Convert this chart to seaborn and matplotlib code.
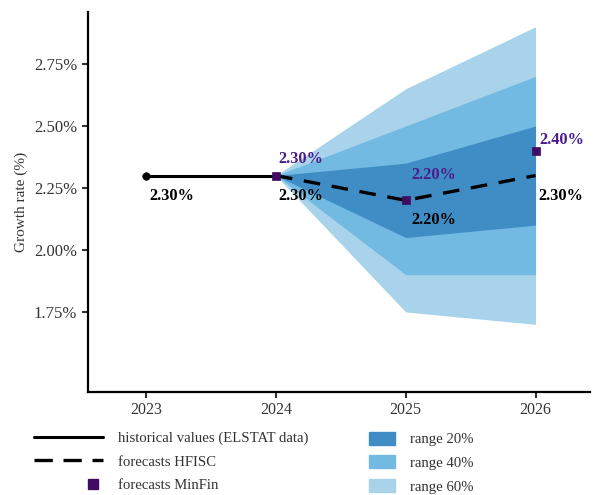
import numpy as np
import matplotlib
matplotlib.use("Agg")
import matplotlib.pyplot as plt
import seaborn as sns
from matplotlib.lines import Line2D
from matplotlib.patches import Patch
from matplotlib.legend_handler import HandlerLine2D

# data
hist_years = [2023, 2024]
hist_values = [2.30, 2.30]

fc_years = [2024, 2025, 2026]
hfisc_values = [2.30, 2.20, 2.30]
minfin_values = [2.30, 2.20, 2.40]

# fan chart bands (lower, upper)
band20_lo = [2.30, 2.05, 2.10]
band20_hi = [2.30, 2.35, 2.50]
band40_lo = [2.30, 1.90, 1.90]
band40_hi = [2.30, 2.50, 2.70]
band60_lo = [2.30, 1.75, 1.70]
band60_hi = [2.30, 2.65, 2.90]

yticks = [1.75, 2.00, 2.25, 2.50, 2.75]
xticks = [2023, 2024, 2025, 2026]

c20 = "#3f8dc4"
c40 = "#73bae3"
c60 = "#a8d3ea"
purple = "#3f0b63"
purple_txt = "#4a1c8c"

sns.set_style("ticks")
plt.rcParams['font.family'] = ['Liberation Serif', 'DejaVu Serif']

fig = plt.figure(figsize=(5.93, 4.95), dpi=100)
ax = fig.add_axes([0.148, 0.208, 0.847, 0.768])

ax.fill_between(fc_years, band60_lo, band60_hi, color=c60, lw=0, zorder=1)
ax.fill_between(fc_years, band40_lo, band40_hi, color=c40, lw=0, zorder=2)
ax.fill_between(fc_years, band20_lo, band20_hi, color=c20, lw=0, zorder=3)

sns.lineplot(x=hist_years, y=hist_values, color="black", lw=2.2, ax=ax, zorder=5)
sns.scatterplot(x=hist_years[:1], y=hist_values[:1], color="black", s=30, ax=ax, zorder=6, edgecolor="black")
ax.plot(fc_years, hfisc_values, color="black", lw=2.4, ls=(0, (5, 3.5)), zorder=5)
sns.scatterplot(x=fc_years, y=minfin_values, color=purple, marker="s", s=40,
                edgecolor=purple, ax=ax, zorder=7)

# value labels
lab = dict(fontsize=11.8, fontweight="bold", textcoords="offset points")
ax.annotate(f"{hist_values[0]:.2f}%", (hist_years[0], hist_values[0]), xytext=(2, -15),
            color="black", ha="left", va="center", **lab)
black_off = [(2, -15), (4, -14), (2, -15)]
for yr, v, off in zip(fc_years, hfisc_values, black_off):
    ax.annotate(f"{v:.2f}%", (yr, v), xytext=off, color="black", ha="left", va="center", **lab)
purple_off = [(2, 12), (4, 18), (3, 8)]
for yr, v, off in zip(fc_years, minfin_values, purple_off):
    ax.annotate(f"{v:.2f}%", (yr, v), xytext=off, color=purple_txt, ha="left", va="center", **lab)

ax.set_xlim(2022.55, 2026.42)
ax.set_ylim(1.427, 2.96)
ax.set_xticks(xticks)
ax.set_xticklabels([str(x) for x in xticks])
ax.set_yticks(yticks)
ax.set_yticklabels([f"{t:.2f}%" for t in yticks])
ax.tick_params(colors="#333333", width=1.5, length=4)
ax.tick_params(axis="y", labelsize=12)
ax.tick_params(axis="x", labelsize=11.5)
ax.set_ylabel("Growth rate (%)", fontsize=11, color="#333333")
ax.set_xlabel("")
sns.despine(ax=ax)
for s in ["left", "bottom"]:
    ax.spines[s].set_linewidth(1.6)
    ax.spines[s].set_color("black")


# put the MinFin legend marker at the right end of the handle, like the original
class RightMarker(HandlerLine2D):
    def get_xdata(self, legend, xdescent, ydescent, width, height, fontsize):
        x = [width - xdescent - 7]
        return x, x


h_hist = Line2D([], [], color="black", lw=2.2)
h_hfisc = Line2D([], [], color="black", lw=2.4, ls=(0, (5.5, 3.2)))
h_minfin = Line2D([], [], color=purple, marker="s", ls="none", markersize=7)
leg1 = fig.legend([h_hist, h_hfisc, h_minfin],
                  ["historical values (ELSTAT data)", "forecasts HFISC", "forecasts MinFin"],
                  loc="upper left", bbox_to_anchor=(0.035, 0.155), frameon=False,
                  fontsize=10.6, handlelength=4.7, handletextpad=1.0, labelspacing=0.7,
                  handler_map={h_minfin: RightMarker(numpoints=2)})
leg2 = fig.legend([Patch(color=c20), Patch(color=c40), Patch(color=c60)],
                  ["range 20%", "range 40%", "range 60%"],
                  loc="upper left", bbox_to_anchor=(0.6, 0.155), frameon=False,
                  fontsize=10.6, handlelength=1.75, handleheight=1.0, handletextpad=1.0,
                  labelspacing=0.62)
for leg in (leg1, leg2):
    for t in leg.get_texts():
        t.set_color("#333333")

fig.savefig("out.png", dpi=100)
